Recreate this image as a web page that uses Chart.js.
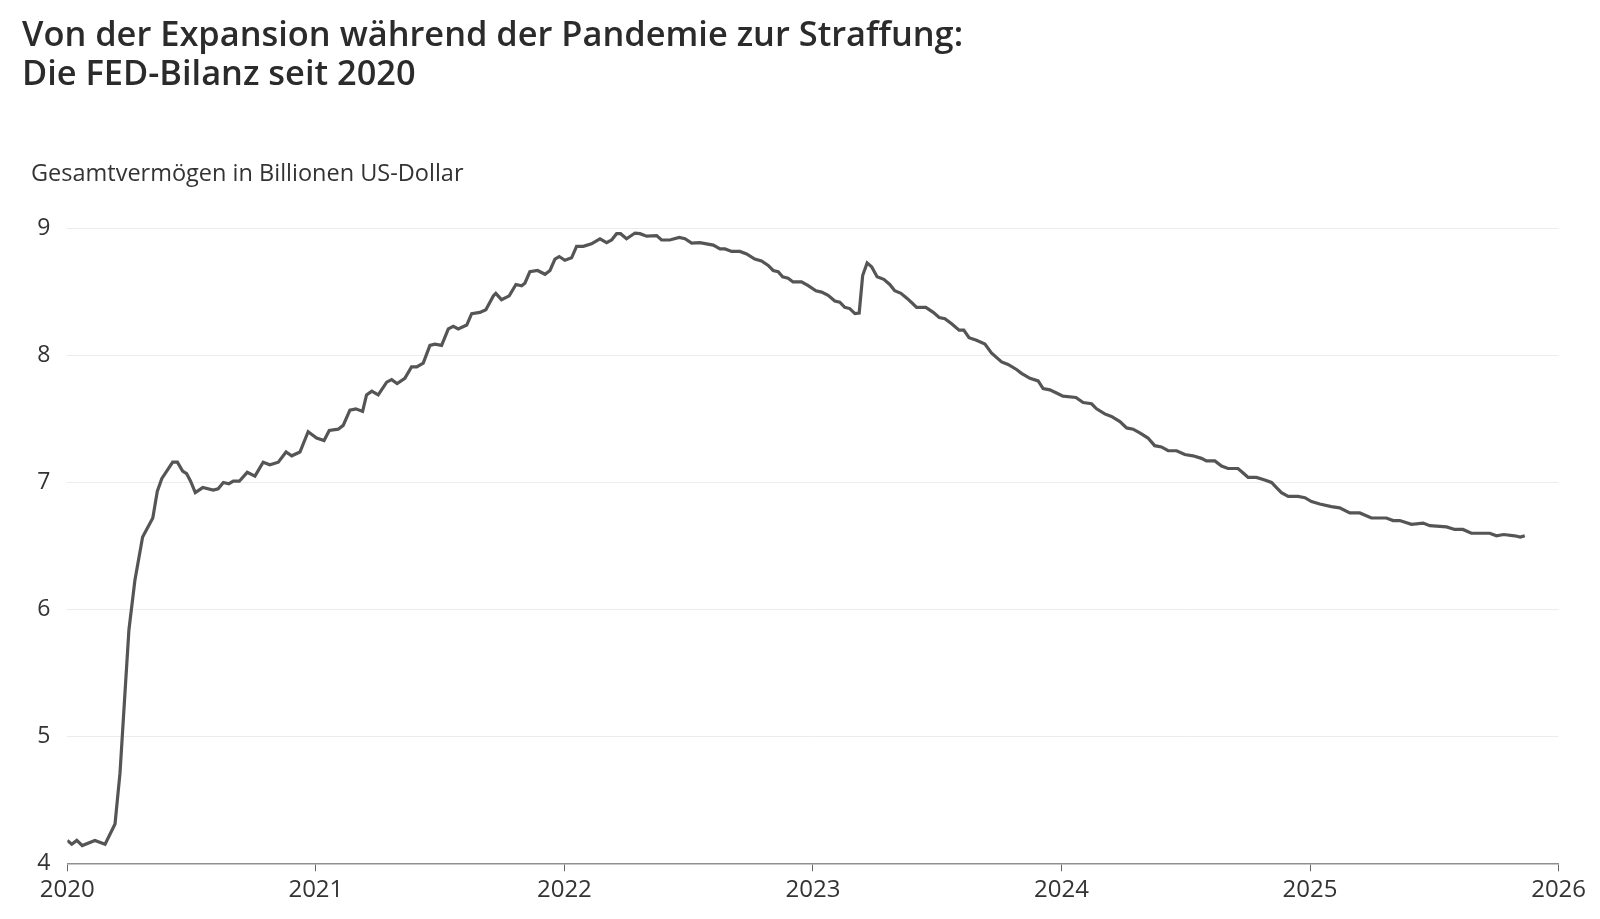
<!DOCTYPE html>
<html lang="de">
<head>
<meta charset="utf-8">
<title>FED-Bilanz seit 2020</title>
<script src="https://cdn.jsdelivr.net/npm/chart.js@4.4.1/dist/chart.umd.min.js"></script>
<style>
  html, body { margin: 0; padding: 0; background: #fff; overflow: hidden; }
  body { width: 1600px; height: 919px; position: relative; font-family: "Open Sans", Lato, sans-serif; color: #2b2b2b; }
  #title { position: absolute; left: 22px; top: 13px; font-size: 34.4px; font-weight: 600; line-height: 39px; }
  #unit { position: absolute; left: 31px; top: 156px; font-size: 23.5px; color: #333; }
  #wrap { position: absolute; left: 0; top: 0; width: 1600px; height: 919px; }
</style>
</head>
<body>
<div id="wrap"><canvas id="fedChart" width="1600" height="919"></canvas></div>
<div id="title">Von der Expansion während der Pandemie zur Straffung:<br>Die FED-Bilanz seit 2020</div>
<div id="unit">Gesamtvermögen in Billionen US-Dollar</div>
<script>
// Zeitpunkte als Dezimaljahr, Werte in Billionen US-Dollar
const years = [
  2020.000, 2020.018, 2020.038, 2020.060, 2020.111, 2020.152, 2020.192, 2020.212, 2020.232, 2020.248,
  2020.272, 2020.303, 2020.344, 2020.362, 2020.380, 2020.424, 2020.443, 2020.464, 2020.480, 2020.496,
  2020.515, 2020.545, 2020.587, 2020.607, 2020.628, 2020.650, 2020.668, 2020.692, 2020.724, 2020.755,
  2020.788, 2020.815, 2020.849, 2020.880, 2020.903, 2020.936, 2020.969, 2021.003, 2021.033, 2021.054,
  2021.090, 2021.110, 2021.137, 2021.161, 2021.188, 2021.204, 2021.225, 2021.251, 2021.285, 2021.305,
  2021.327, 2021.358, 2021.385, 2021.406, 2021.432, 2021.459, 2021.479, 2021.506, 2021.533, 2021.553,
  2021.573, 2021.607, 2021.627, 2021.660, 2021.684, 2021.714, 2021.724, 2021.747, 2021.778, 2021.805,
  2021.828, 2021.841, 2021.861, 2021.892, 2021.922, 2021.942, 2021.962, 2021.979, 2022.002, 2022.029,
  2022.049, 2022.076, 2022.109, 2022.143, 2022.170, 2022.190, 2022.210, 2022.226, 2022.250, 2022.284,
  2022.304, 2022.331, 2022.371, 2022.391, 2022.424, 2022.462, 2022.485, 2022.512, 2022.545, 2022.572,
  2022.599, 2022.626, 2022.646, 2022.673, 2022.706, 2022.733, 2022.766, 2022.793, 2022.820, 2022.840,
  2022.860, 2022.878, 2022.900, 2022.920, 2022.954, 2022.981, 2023.012, 2023.035, 2023.061, 2023.088,
  2023.108, 2023.128, 2023.148, 2023.169, 2023.186, 2023.200, 2023.218, 2023.236, 2023.258, 2023.285,
  2023.309, 2023.329, 2023.354, 2023.379, 2023.401, 2023.417, 2023.454, 2023.484, 2023.508, 2023.531,
  2023.558, 2023.588, 2023.607, 2023.628, 2023.658, 2023.692, 2023.718, 2023.759, 2023.785, 2023.819,
  2023.839, 2023.873, 2023.906, 2023.926, 2023.953, 2023.980, 2024.006, 2024.058, 2024.087, 2024.121,
  2024.141, 2024.174, 2024.201, 2024.235, 2024.262, 2024.288, 2024.315, 2024.348, 2024.375, 2024.402,
  2024.429, 2024.463, 2024.496, 2024.529, 2024.563, 2024.583, 2024.617, 2024.644, 2024.670, 2024.710,
  2024.731, 2024.751, 2024.784, 2024.818, 2024.845, 2024.865, 2024.885, 2024.912, 2024.952, 2024.979,
  2025.006, 2025.039, 2025.086, 2025.119, 2025.160, 2025.200, 2025.247, 2025.307, 2025.334, 2025.361,
  2025.408, 2025.455, 2025.482, 2025.549, 2025.582, 2025.615, 2025.649, 2025.683, 2025.723, 2025.750,
  2025.779, 2025.823, 2025.846, 2025.864
];
const values = [
  4.18, 4.15, 4.18, 4.14, 4.18, 4.15, 4.31, 4.71, 5.34, 5.84,
  6.23, 6.57, 6.72, 6.93, 7.03, 7.16, 7.16, 7.09, 7.07, 7.01,
  6.92, 6.96, 6.94, 6.95, 7.00, 6.99, 7.01, 7.01, 7.08, 7.05,
  7.16, 7.14, 7.16, 7.24, 7.21, 7.24, 7.40, 7.35, 7.33, 7.41,
  7.42, 7.45, 7.57, 7.58, 7.56, 7.69, 7.72, 7.69, 7.79, 7.81,
  7.78, 7.82, 7.91, 7.91, 7.94, 8.08, 8.09, 8.08, 8.21, 8.23,
  8.21, 8.24, 8.33, 8.34, 8.36, 8.47, 8.49, 8.44, 8.47, 8.56,
  8.55, 8.57, 8.66, 8.67, 8.64, 8.67, 8.76, 8.78, 8.75, 8.77,
  8.86, 8.86, 8.88, 8.92, 8.89, 8.91, 8.96, 8.96, 8.92, 8.965,
  8.96, 8.94, 8.945, 8.91, 8.91, 8.93, 8.92, 8.885, 8.89, 8.88,
  8.87, 8.84, 8.84, 8.82, 8.82, 8.80, 8.76, 8.745, 8.71, 8.67,
  8.66, 8.62, 8.61, 8.58, 8.58, 8.55, 8.51, 8.50, 8.475, 8.43,
  8.42, 8.38, 8.37, 8.33, 8.335, 8.63, 8.73, 8.70, 8.62, 8.60,
  8.56, 8.51, 8.49, 8.45, 8.41, 8.38, 8.38, 8.34, 8.30, 8.29,
  8.25, 8.20, 8.20, 8.14, 8.12, 8.09, 8.02, 7.95, 7.93, 7.89,
  7.86, 7.82, 7.80, 7.74, 7.73, 7.705, 7.68, 7.67, 7.63, 7.62,
  7.58, 7.54, 7.52, 7.48, 7.43, 7.42, 7.39, 7.35, 7.29, 7.28,
  7.25, 7.25, 7.22, 7.21, 7.19, 7.17, 7.17, 7.13, 7.11, 7.11,
  7.075, 7.04, 7.04, 7.02, 7.00, 6.96, 6.92, 6.89, 6.89, 6.88,
  6.85, 6.83, 6.81, 6.80, 6.76, 6.76, 6.72, 6.72, 6.70, 6.70,
  6.67, 6.68, 6.66, 6.65, 6.63, 6.63, 6.60, 6.60, 6.60, 6.58,
  6.59, 6.58, 6.57, 6.58
];
const yearTicks = [2020, 2021, 2022, 2023, 2024, 2025, 2026];
const valueTicks = [4, 5, 6, 7, 8, 9];

const points = years.map((t, i) => ({ x: t, y: values[i] }));

const config = {
  type: 'line',
  data: {
    datasets: [{
      label: 'Gesamtvermögen',
      data: points,
      borderColor: '#555555',
      borderWidth: 3.2,
      pointRadius: 0,
      tension: 0,
      fill: false,
    }]
  },
  options: {
    responsive: false,
    animation: false,
    layout: { padding: { top: 228.6, right: 41.4, bottom: 0, left: 0 } },
    plugins: { legend: { display: false }, tooltip: { enabled: false } },
    scales: {
      x: {
        type: 'linear',
        min: 2020,
        max: 2026,
        afterBuildTicks: (scale) => { scale.ticks = yearTicks.map(v => ({ value: v })); },
        afterFit: (scale) => { scale.height = 919 - 863.3; },
        ticks: {
          callback: (v) => String(v),
          color: '#333',
          font: { family: 'Open Sans', size: 24 },
          padding: 4,
          maxRotation: 0,
        },
        grid: { drawOnChartArea: false, drawTicks: true, tickLength: 8, color: '#666', lineWidth: 1 },
        border: { color: '#8f8f8f', width: 1.5 },
      },
      y: {
        min: 4,
        max: 9,
        afterBuildTicks: (scale) => { scale.ticks = valueTicks.map(v => ({ value: v })); },
        afterFit: (scale) => { scale.width = 67.3; },
        ticks: {
          color: '#333',
          font: { family: 'Open Sans', size: 23 },
          padding: 17,
        },
        grid: { color: '#ececec', lineWidth: 1, drawTicks: false },
        border: { display: false },
      }
    }
  }
};

const fedChart = new Chart(document.getElementById('fedChart'), config);
</script>
</body>
</html>
